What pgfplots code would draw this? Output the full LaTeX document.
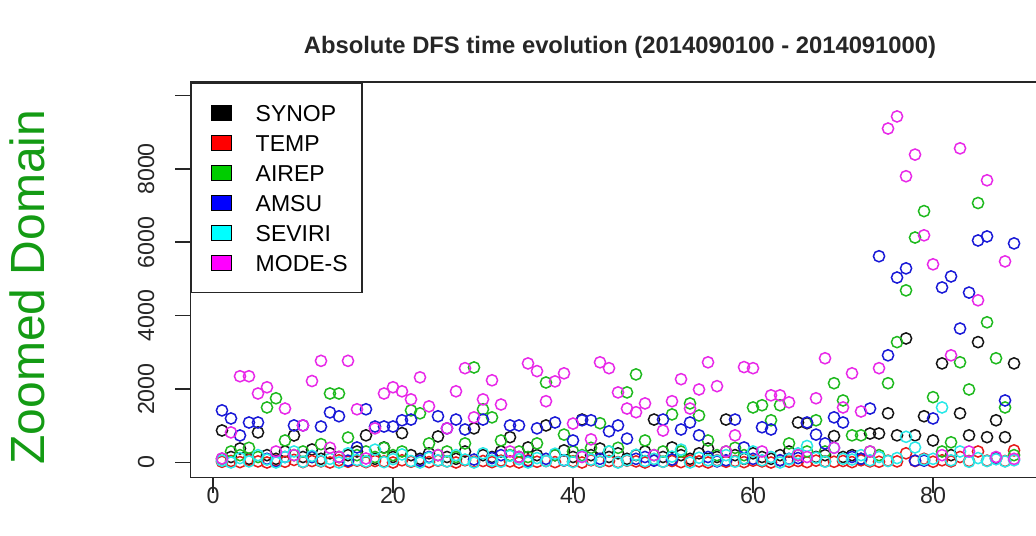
\documentclass[border=0pt]{standalone}
\usepackage{fontspec}
\setmainfont{Liberation Sans}
\usepackage{pgfplots}
\pgfplotsset{compat=1.18}
\definecolor{mblack}{RGB}{20,20,20}
\definecolor{mred}{RGB}{230,25,25}
\definecolor{mgreen}{RGB}{30,185,30}
\definecolor{mblue}{RGB}{25,25,215}
\definecolor{mcyan}{RGB}{40,232,232}
\definecolor{mmagenta}{RGB}{232,40,232}
\definecolor{lblack}{RGB}{0,0,0}
\definecolor{lred}{RGB}{255,0,0}
\definecolor{lgreen}{RGB}{0,205,0}
\definecolor{lblue}{RGB}{0,0,255}
\definecolor{lcyan}{RGB}{0,255,255}
\definecolor{lmagenta}{RGB}{255,0,255}
\definecolor{zgreen}{RGB}{20,155,20}
\pgfplotsset{
  rsq/.style={legend image code/.code={%
    \draw[black,line width=0.5pt,fill=#1] (0pt,-3.75pt) rectangle (10pt,3.75pt);
    \path (-4pt,0pt) (20.5pt,0pt);}},
  rpt/.style={only marks, mark=o, mark size=2.8pt, color=#1, mark options={line width=0.75pt}},
}
\begin{document}
\begin{tikzpicture}
\useasboundingbox (-95.15pt,-28.75pt) rectangle (422.85pt,238.75pt);
\clip (-95.15pt,-28.75pt) rectangle (422.85pt,238.75pt);
\begin{axis}[
  at={(0,0)}, anchor=south west,
  scale only axis, width=427.7pt, height=197.75pt,
  xmin=-2.52, xmax=92.52, ymin=-409, ymax=10368,
  scaled y ticks=false, scaled x ticks=false,
  axis line style={black!85, line width=0.8pt},
  xtick={0,20,40,60,80}, xticklabels={0,20,40,60,80},
  ytick={0,2000,4000,6000,8000,10000}, yticklabels={0,2000,4000,6000,8000,{}},
  tick align=outside, major tick length=7.5pt,
  tick style={black!85, line width=0.8pt},
  xtick pos=bottom, ytick pos=left,
  ticklabel style={font=\fontsize{11.6}{14}\selectfont, text=black!85},
  yticklabel style={rotate=90, anchor=south},
  yticklabel shift=7pt, xticklabel shift=-6pt,
  legend cell align=left,
  legend style={at={(0,1)}, anchor=north west, draw=black!85, line width=0.8pt,
    inner xsep=6pt, inner ysep=9.7pt, row sep=4.5pt,
    font=\fontsize{11.5}{13}\selectfont,
    nodes={inner sep=1pt, text height=8.5pt, text depth=0pt}},
]
\addplot[rpt=mblack, rsq=lblack] coordinates {
(1,873) (2,150) (3,382) (4,100) (5,820) (6,200) (7,100) (8,300) (9,737) (10,150)
(11,355) (12,100) (13,250) (14,150) (15,200) (16,300) (17,740) (18,100) (19,410) (20,150)
(21,800) (22,200) (23,100) (24,250) (25,710) (26,150) (27,100) (28,300) (29,930) (30,200)
(31,150) (32,300) (33,690) (34,150) (35,410) (36,200) (37,1010) (38,200) (39,330) (40,150)
(41,1170) (42,200) (43,380) (44,150) (45,250) (46,100) (47,200) (48,300) (49,1170) (50,150)
(51,410) (52,200) (53,100) (54,250) (55,380) (56,150) (57,1170) (58,200) (59,100) (60,250)
(61,150) (62,100) (63,200) (64,300) (65,1090) (66,1070) (67,150) (68,200) (69,720) (70,150)
(71,200) (72,100) (73,790) (74,790) (75,1340) (76,740) (77,3380) (78,740) (79,1260) (80,600)
(81,2700) (82,200) (83,1340) (84,740) (85,3280) (86,690) (87,1150) (88,690) (89,2700)
};
\addlegendentry{SYNOP}
\addplot[rpt=mred, rsq=lred] coordinates {
(1,20) (2,40) (3,10) (4,60) (5,30) (6,0) (7,50) (8,20) (9,70) (10,10)
(11,40) (12,30) (13,0) (14,60) (15,20) (16,50) (17,10) (18,40) (19,30) (20,0)
(21,60) (22,20) (23,40) (24,10) (25,50) (26,30) (27,0) (28,60) (29,20) (30,40)
(31,10) (32,50) (33,30) (34,0) (35,60) (36,20) (37,40) (38,10) (39,50) (40,30)
(41,0) (42,60) (43,20) (44,40) (45,10) (46,50) (47,30) (48,0) (49,60) (50,20)
(51,40) (52,10) (53,50) (54,30) (55,0) (56,60) (57,20) (58,40) (59,10) (60,50)
(61,30) (62,0) (63,60) (64,20) (65,40) (66,10) (67,50) (68,30) (69,20) (70,40)
(71,10) (72,60) (73,30) (74,20) (75,50) (76,30) (77,250) (78,40) (79,100) (80,20)
(81,60) (82,30) (83,150) (84,40) (85,300) (86,50) (87,120) (88,40) (89,330)
};
\addlegendentry{TEMP}
\addplot[rpt=mgreen, rsq=lgreen] coordinates {
(1,100) (2,300) (3,200) (4,400) (5,150) (6,1500) (7,1750) (8,600) (9,200) (10,300)
(11,150) (12,500) (13,1880) (14,1880) (15,680) (16,200) (17,300) (18,150) (19,400) (20,200)
(21,300) (22,1420) (23,1340) (24,520) (25,200) (26,300) (27,150) (28,520) (29,2590) (30,1450)
(31,1230) (32,600) (33,200) (34,300) (35,150) (36,520) (37,2180) (38,200) (39,760) (40,300)
(41,200) (42,400) (43,1070) (44,300) (45,400) (46,1910) (47,2400) (48,600) (49,200) (50,300)
(51,1310) (52,300) (53,1610) (54,1280) (55,600) (56,200) (57,300) (58,400) (59,200) (60,1500)
(61,1560) (62,1150) (63,1560) (64,520) (65,200) (66,300) (67,1150) (68,300) (69,2160) (70,1690)
(71,740) (72,740) (73,300) (74,200) (75,2160) (76,3280) (77,4690) (78,6130) (79,6850) (80,1780)
(81,300) (82,550) (83,2730) (84,1990) (85,7070) (86,3820) (87,2840) (88,1500) (89,200)
};
\addlegendentry{AIREP}
\addplot[rpt=mblue, rsq=lblue] coordinates {
(1,1420) (2,1200) (3,737) (4,1090) (5,1090) (6,100) (7,30) (8,150) (9,1010) (10,1010)
(11,150) (12,980) (13,1365) (14,1260) (15,50) (16,410) (17,1450) (18,980) (19,980) (20,980)
(21,1150) (22,1170) (23,50) (24,150) (25,1260) (26,930) (27,1170) (28,900) (29,80) (30,1170)
(31,120) (32,200) (33,1010) (34,1010) (35,30) (36,930) (37,100) (38,1090) (39,60) (40,600)
(41,1150) (42,1150) (43,100) (44,850) (45,1010) (46,650) (47,100) (48,150) (49,50) (50,1170)
(51,80) (52,900) (53,1090) (54,740) (55,150) (56,30) (57,60) (58,1170) (59,410) (60,100)
(61,960) (62,900) (63,60) (64,100) (65,120) (66,1090) (67,760) (68,520) (69,1230) (70,1090)
(71,150) (72,100) (73,1470) (74,5620) (75,2920) (76,5040) (77,5290) (78,50) (79,50) (80,1200)
(81,4770) (82,5070) (83,3650) (84,4630) (85,6050) (86,6160) (87,100) (88,1690) (89,5970)
};
\addlegendentry{AMSU}
\addplot[rpt=mcyan, rsq=lcyan] coordinates {
(1,50) (2,0) (3,120) (4,30) (5,200) (6,80) (7,0) (8,150) (9,300) (10,20)
(11,180) (12,40) (13,100) (14,0) (15,250) (16,70) (17,30) (18,350) (19,10) (20,90)
(21,220) (22,40) (23,0) (24,130) (25,60) (26,30) (27,200) (28,80) (29,0) (30,250)
(31,50) (32,20) (33,180) (34,90) (35,0) (36,120) (37,40) (38,240) (39,60) (40,10)
(41,170) (42,80) (43,30) (44,300) (45,0) (46,60) (47,210) (48,40) (49,100) (50,20)
(51,160) (52,350) (53,0) (54,130) (55,60) (56,50) (57,200) (58,20) (59,110) (60,300)
(61,60) (62,150) (63,0) (64,90) (65,250) (66,450) (67,130) (68,20) (69,400) (70,100)
(71,80) (72,200) (73,60) (74,150) (75,40) (76,120) (77,700) (78,410) (79,80) (80,100)
(81,1500) (82,60) (83,300) (84,20) (85,120) (86,40) (87,90) (88,30) (89,60)
};
\addlegendentry{SEVIRI}
\addplot[rpt=mmagenta, rsq=lmagenta] coordinates {
(1,110) (2,820) (3,2350) (4,2350) (5,1880) (6,2050) (7,300) (8,1470) (9,200) (10,1010)
(11,2220) (12,2770) (13,400) (14,150) (15,2770) (16,1450) (17,110) (18,930) (19,1880) (20,2050)
(21,1940) (22,1720) (23,2320) (24,1530) (25,200) (26,930) (27,1940) (28,2570) (29,1230) (30,1720)
(31,2240) (32,1580) (33,300) (34,150) (35,2700) (36,2490) (37,1670) (38,2210) (39,2430) (40,1060)
(41,150) (42,630) (43,2730) (44,2570) (45,1910) (46,1470) (47,1370) (48,1610) (49,200) (50,870)
(51,1670) (52,2270) (53,1470) (54,1990) (55,2730) (56,2080) (57,300) (58,740) (59,2600) (60,2570)
(61,300) (62,1830) (63,1830) (64,1640) (65,200) (66,150) (67,1750) (68,2840) (69,400) (70,1500)
(71,2430) (72,1390) (73,300) (74,2570) (75,9100) (76,9430) (77,7800) (78,8390) (79,6190) (80,5400)
(81,200) (82,2920) (83,8560) (84,300) (85,4420) (86,7690) (87,150) (88,5480) (89,100)
};
\addlegendentry{MODE-S}
\end{axis}
\node[anchor=base, font=\bfseries\fontsize{11.9}{14}\selectfont, text=black!85] at (214.85pt,211.75pt)
  {Absolute DFS time evolution (2014090100 - 2014091000)};
\node[rotate=90, anchor=base, text=zgreen, font=\fontsize{24}{28}\selectfont] at (-72.65pt,95.25pt) {Zoomed Domain};
\end{tikzpicture}
\end{document}
